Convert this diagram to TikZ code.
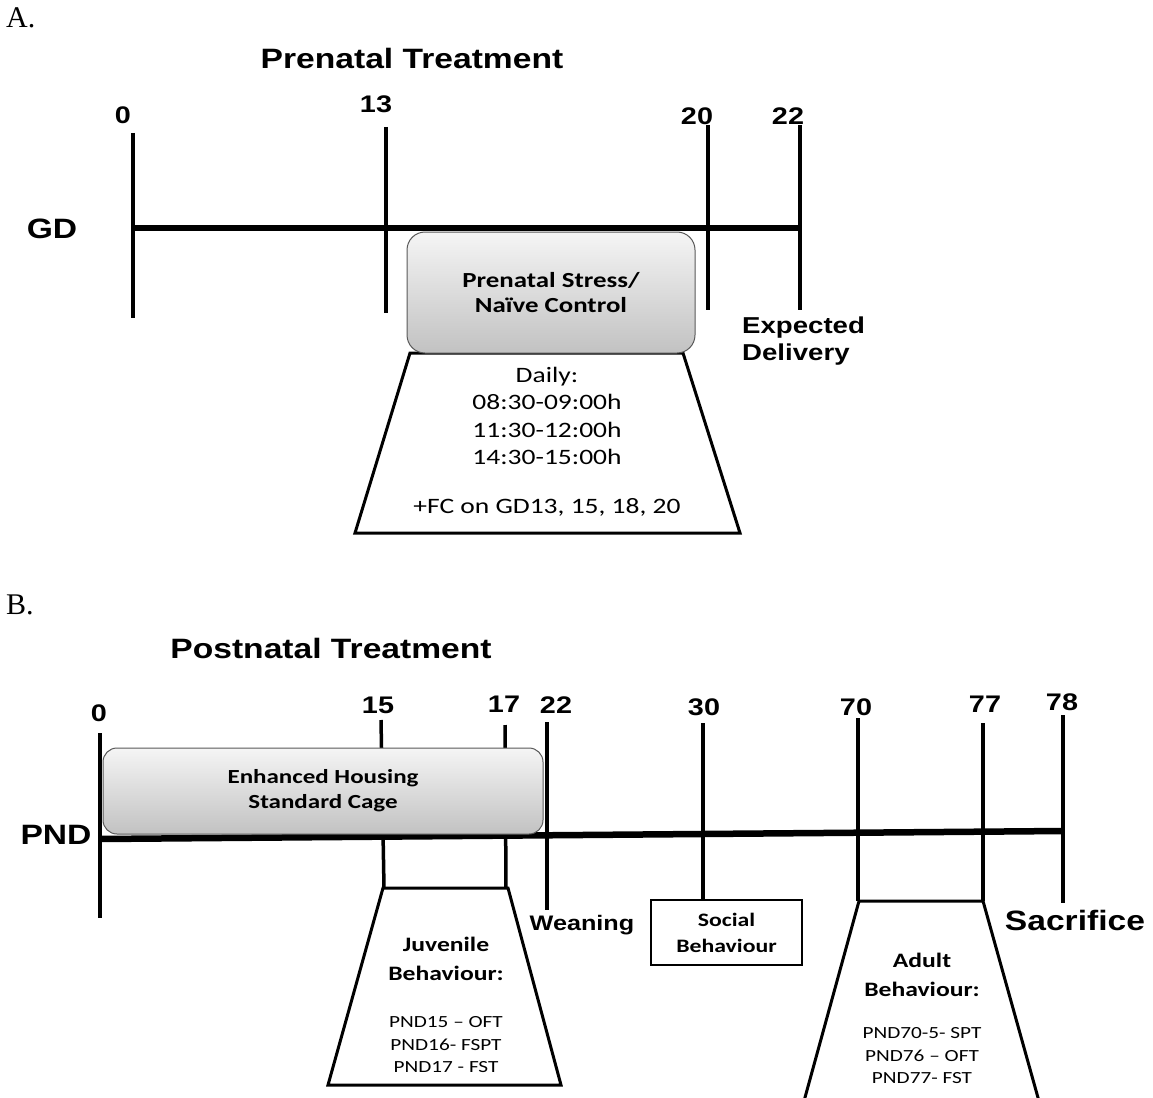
\documentclass[tikz,border=0pt]{standalone}
\usepackage{fontspec}
\setmainfont{Liberation Serif}
\newfontfamily\headfont[FakeStretch=1.2]{Liberation Sans}
\newfontfamily\boxfont[FakeStretch=1.25, Ligatures=TeX]{Carlito}
\newcommand\setfs[2]{\fontsize{#1}{#2}\selectfont}
\usetikzlibrary{positioning}

\begin{document}
\begin{tikzpicture}[x=1pt, y=-1pt,
    every node/.style={inner sep=0pt},
    axisline/.style={line width=6.5pt},
    tickline/.style={line width=4pt},
    thintick/.style={line width=3.5pt},
    ticklab/.style={font=\headfont\bfseries\setfs{24}{28}},
    axislab/.style={font=\headfont\bfseries\setfs{28}{32}},
    heading/.style={font=\headfont\bfseries\setfs{28}{32}},
    panellab/.style={font=\setfs{30}{34}, anchor=west},
    eventlab/.style={font=\headfont\bfseries\setfs{23}{27}, align=left},
    greybox/.style={draw=black!65, line width=1pt, rounded corners=18pt,
        top color=black!4, bottom color=black!24,
        font=\boxfont\bfseries\setfs{20}{25}, align=center},
    trapline/.style={line width=3pt, line join=miter},
    plainbox/.style={draw, line width=2.5pt, font=\boxfont\bfseries\setfs{19}{26}, align=center},
    trapbold/.style={font=\boxfont\bfseries\setfs{20.5}{29}, align=center},
    trapthin/.style={font=\boxfont\setfs{17}{22.5}, align=center},
]
\useasboundingbox (0,0) rectangle (1153,1097);

% A. Prenatal
\node[panellab] (A) at (6,18) {A.};
\node[heading] (pretitle) at (412,58) {Prenatal Treatment};
\node[axislab] (GD) at (52,229) {GD};

\coordinate (g0t) at (133,133);  \coordinate (g0b) at (133,318);
\coordinate (g13t) at (386,127); \coordinate (g13b) at (386,313);
\coordinate (g20t) at (708,125); \coordinate (g20b) at (708,310);
\coordinate (g22t) at (800,125); \coordinate (g22b) at (800,310);
\coordinate (gdstart) at (133,228); \coordinate (gdend) at (800,228);

\node[ticklab] (l0)  at (123,115) {0};
\node[ticklab] (l13) at (376,104) {13};
\node[ticklab] (l20) at (697,116) {20};
\node[ticklab] (l22) at (788,116) {22};

\draw[tickline] (g0t) -- (g0b);
\draw[tickline] (g13t) -- (g13b);
\draw[tickline] (g20t) -- (g20b);
\draw[tickline] (g22t) -- (g22b);
\draw[axisline] (gdstart) -- (gdend);

\coordinate (p1) at (410,353); \coordinate (p2) at (683,353);
\coordinate (p3) at (740,533); \coordinate (p4) at (355,533);
\draw[trapline] (p1) -- (p2) -- (p3) -- (p4) -- cycle;
\node[greybox, minimum width=288pt, minimum height=121pt,
      font=\boxfont\bfseries\setfs{21.5}{25}] (stress) at (551,292.5)
    {Prenatal Stress/\\Na\"ive Control};
\node[font=\boxfont\setfs{22}{27.3}, align=center] (daily) at (547,416)
    {Daily:\\08:30-09:00h\\11:30-12:00h\\14:30-15:00h};
\node[font=\boxfont\setfs{22}{27}] (fc) at (547,507) {+FC on GD13, 15, 18, 20};
\node[eventlab, anchor=west] (deliv) at (742,341) {Expected\\Delivery};

% B. Postnatal
\node[panellab] (B) at (6,605) {B.};
\node[heading] (posttitle) at (331,648) {Postnatal Treatment};
\node[axislab] (PND) at (56,835) {PND};

\coordinate (n0t) at (100,733);  \coordinate (n0b) at (100,918);
\coordinate (n15t) at (381,720); \coordinate (n15b) at (384,888);
\coordinate (n17t) at (505,725); \coordinate (n17b) at (506,888);
\coordinate (n22t) at (547,722); \coordinate (n22b) at (547,910);
\coordinate (n30t) at (703,723); \coordinate (n30b) at (703,900);
\coordinate (n70t) at (858,718); \coordinate (n70b) at (858,901);
\coordinate (n77t) at (983,723); \coordinate (n77b) at (983,901);
\coordinate (n78t) at (1063,715); \coordinate (n78b) at (1063,903);
\coordinate (pndstart) at (100,839); \coordinate (pndend) at (1063,831);

\node[ticklab] (m0)  at (99,713)  {0};
\node[ticklab] (m15) at (378,705) {15};
\node[ticklab] (m17) at (504,704) {17};
\node[ticklab] (m22) at (556,705) {22};
\node[ticklab] (m30) at (704,707) {30};
\node[ticklab] (m70) at (856,707) {70};
\node[ticklab] (m77) at (985,704) {77};
\node[ticklab] (m78) at (1062,702) {78};

\draw[thintick] (n0t) -- (n0b);
\draw[thintick] (n15t) -- (n15b);
\draw[thintick] (n17t) -- (n17b);
\draw[thintick] (n22t) -- (n22b);
\draw[thintick] (n30t) -- (n30b);
\draw[thintick] (n70t) -- (n70b);
\draw[thintick] (n77t) -- (n77b);
\draw[thintick] (n78t) -- (n78b);
\draw[axisline] (pndstart) -- (pndend);

\node[greybox, minimum width=440pt, minimum height=86pt, rounded corners=14pt] (housing) at (323,791)
    {Enhanced Housing\\Standard Cage};

% juvenile
\coordinate (j1) at (383,888); \coordinate (j2) at (508,888);
\coordinate (j3) at (561,1085); \coordinate (j4) at (328,1085);
\draw[trapline] (j1) -- (j2) -- (j3) -- (j4) -- cycle;
\node[trapbold] (juv) at (446,959) {Juvenile\\Behaviour:};
\node[trapthin] (juvlist) at (446,1045) {PND15 – OFT\\PND16- FSPT\\PND17 - FST};

\node[eventlab, font=\headfont\bfseries\setfs{21}{25}] (wean) at (582,925) {Weaning};

\node[plainbox, minimum width=151pt, minimum height=65pt] (social) at (726.5,932.5)
    {Social\\Behaviour};

% adult
\coordinate (a1) at (801,1112); \coordinate (a2) at (859,901);
\coordinate (a3) at (983,901); \coordinate (a4) at (1042,1112);
\draw[trapline] (a1) -- (a2) -- (a3) -- (a4);
\node[trapbold] (adult) at (922,975) {Adult\\Behaviour:};
\node[trapthin] (adultlist) at (922,1056) {PND70-5- SPT\\PND76 – OFT\\PND77- FST};

\node[axislab] (sacr) at (1075,920) {Sacrifice};
\end{tikzpicture}
\end{document}
